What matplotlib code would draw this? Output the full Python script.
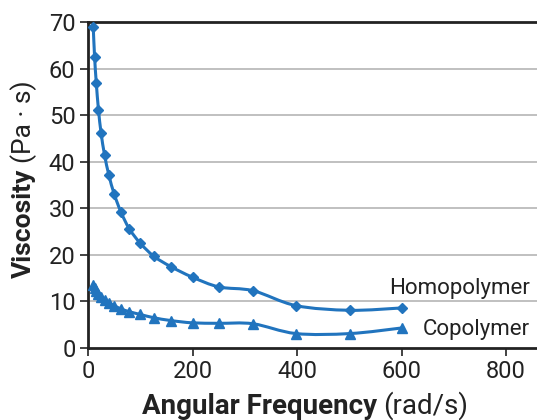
import matplotlib
matplotlib.use("Agg")
import matplotlib.pyplot as plt
from matplotlib.path import Path
from matplotlib.patches import PathPatch

plt.rcParams['font.family'] = ['Roboto', 'DejaVu Sans']

freq = [10, 12.6, 15.8, 20, 25, 31.6, 40, 50, 63, 79, 100, 126, 158, 200, 251, 316, 398, 501, 600]
homopolymer = [69.0, 62.5, 57.0, 51.2, 46.2, 41.5, 37.1, 33.1, 29.2, 25.6, 22.5, 19.7, 17.5, 15.2, 13.1, 12.3, 9.1, 8.1, 8.6]
copolymer = [13.5, 12.8, 12.2, 11.6, 10.9, 10.3, 9.7, 9.1, 8.4, 7.8, 7.2, 6.5, 5.9, 5.4, 5.3, 5.2, 3.1, 3.1, 4.3]

xticks = [0, 200, 400, 600, 800]
yticks = [0, 10, 20, 30, 40, 50, 60, 70]

W, H = 537, 420
fig = plt.figure(figsize=(W / 100, H / 100), dpi=100)
ax = fig.add_axes([88 / W, 1 - 348 / H, 1 - 88 / W, (348 - 22) / H])

color = '#2174be'


def smooth_path(xs, ys):
    """Excel-style smoothed line: Catmull-Rom segments as cubic Bezier curves."""
    n = len(xs)
    verts = [(xs[0], ys[0])]
    codes = [Path.MOVETO]
    for i in range(n - 1):
        x0, y0 = xs[max(i - 1, 0)], ys[max(i - 1, 0)]
        x1, y1 = xs[i], ys[i]
        x2, y2 = xs[i + 1], ys[i + 1]
        x3, y3 = xs[min(i + 2, n - 1)], ys[min(i + 2, n - 1)]
        c1 = (x1 + (x2 - x0) / 6, y1 + (y2 - y0) / 6)
        c2 = (x2 - (x3 - x1) / 6, y2 - (y3 - y1) / 6)
        verts += [c1, c2, (x2, y2)]
        codes += [Path.CURVE4] * 3
    return Path(verts, codes)


for ys, mk, ms in [(homopolymer, 'D', 5.5), (copolymer, '^', 7)]:
    ax.add_patch(PathPatch(smooth_path(freq, ys), facecolor='none', edgecolor=color,
                           lw=2.2, zorder=3, capstyle='round', joinstyle='round'))
    ax.plot(freq, ys, color=color, lw=0, marker=mk, ms=ms, zorder=4)

ax.set_xlim(0, 859)
ax.set_ylim(0, 70)
ax.set_xticks(xticks)
ax.set_yticks(yticks)
ax.tick_params(axis='both', labelsize=17, color='#222222', labelcolor='#222222',
               length=6, width=1.2, direction='out')
ax.tick_params(axis='x', pad=3)
ax.tick_params(axis='y', pad=3)

for y in yticks[1:-1]:
    ax.axhline(y, color='#b5b5b5', lw=1.2, zorder=1)

ax.spines['right'].set_visible(False)
for s in ['left', 'bottom', 'top']:
    ax.spines[s].set_color('#222222')
    ax.spines[s].set_linewidth(2)

ax.text(845, 12.7, 'Homopolymer', ha='right', va='center', fontsize=16, color='#222222')
ax.text(845, 3.9, 'Copolymer', ha='right', va='center', fontsize=16, color='#222222')

fig.canvas.draw()
r = fig.canvas.get_renderer()

# x label
t1 = fig.text(0, 0, 'Angular Frequency', fontsize=20, fontweight='bold', color='#222222',
              ha='left', va='baseline')
t2 = fig.text(0, 0, '(rad/s)', fontsize=20, color='#222222', ha='left', va='baseline')
w1 = t1.get_window_extent(r).width
w2 = t2.get_window_extent(r).width
gap = 6
cx, cy = 305, H - 414
start = cx - (w1 + gap + w2) / 2
t1.set_position((start / W, cy / H))
t2.set_position(((start + w1 + gap) / W, cy / H))

# y label
u1 = fig.text(0, 0, 'Viscosity', fontsize=19, fontweight='bold', color='#222222',
              ha='center', va='bottom', rotation=90)
u2 = fig.text(0, 0, '(Pa · s)', fontsize=19, color='#222222', ha='center', va='bottom', rotation=90)
h1 = u1.get_window_extent(r).height
h2 = u2.get_window_extent(r).height
cyl = H - 179
ux = 24
ystart = cyl - (h1 + gap + h2) / 2
u1.set_position((ux / W, ystart / H))
u2.set_position((ux / W, (ystart + h1 + gap) / H))

fig.savefig('out.png', dpi=100)
